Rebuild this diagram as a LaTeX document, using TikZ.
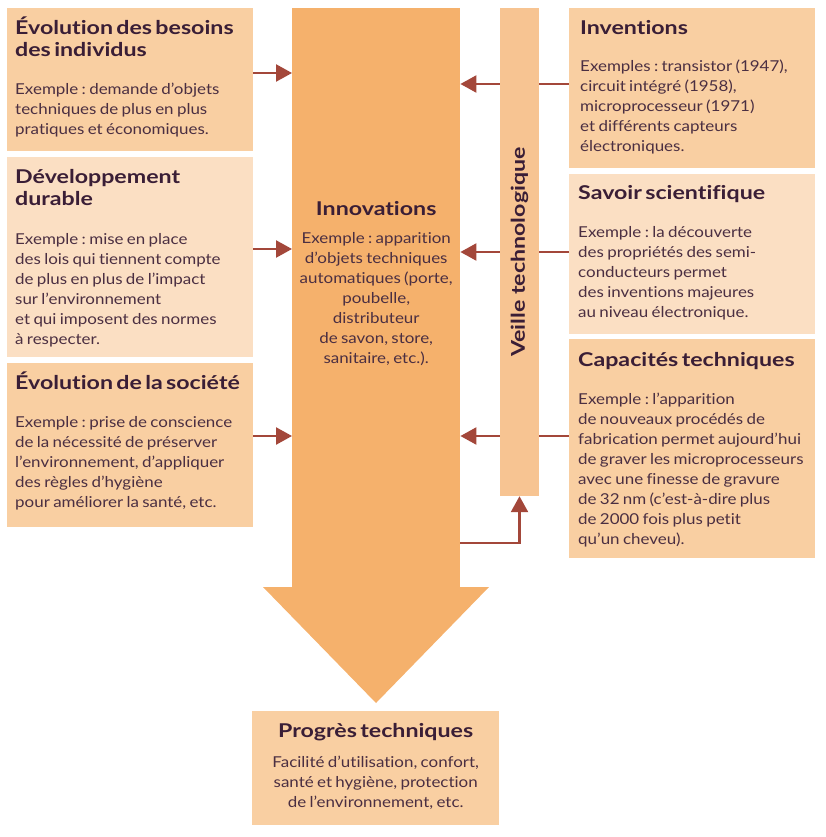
\documentclass[tikz,border=0pt]{standalone}
\usepackage{fontspec}
\setmainfont{Lato}[FakeStretch=1.13, Ligatures=CommonOff]
\newfontfamily\titrefam{Lato}[FakeStretch=1.22, Ligatures=CommonOff]
\usepackage{graphicx}
\frenchspacing
\definecolor{peach}{HTML}{F9CFA2}
\definecolor{peachlight}{HTML}{FBDFC3}
\definecolor{orangemain}{HTML}{F5B16C}
\definecolor{veillecol}{HTML}{F7C492}
\definecolor{rouge}{HTML}{A3473A}
\definecolor{titre}{HTML}{3A1E36}
\definecolor{corps}{HTML}{4B2F42}
\newcommand\titrefont{\titrefam\fontsize{19}{22}\selectfont\bfseries\color{titre}}
\newcommand\corpsfont{\fontsize{15}{20}\selectfont\color{corps}}
\newcommand\cadre[3]{{\titrefont #1\par}\vspace{#3}{\corpsfont #2\par}}
\usetikzlibrary{arrows.meta}
\tikzset{
  box/.style={fill=#1, minimum width=246pt, anchor=north west, inner sep=0pt},
  txt/.style={anchor=base west, text width=245pt, align=left, inner sep=0pt},
  ctxt/.style={anchor=base, text width=240pt, align=center, inner sep=0pt},
  fil/.style={draw=rouge, line width=2.4pt},
  fleche/.style={fil, -{Triangle[length=16pt,width=17pt]}}
}
\begin{document}
\begin{tikzpicture}[x=1pt,y=-1pt]
    \useasboundingbox (0,0) rectangle (825,837);

    \node[box=peach, minimum height=143pt] (besoins) at (7,8) {};
    \node[box=peachlight, minimum height=200pt] (durable) at (7,157) {};
    \node[box=peach, minimum height=164pt] (societe) at (7,363) {};
    \node[box=peach, minimum height=160pt] (inventions) at (569,8) {};
    \node[box=peachlight, minimum height=160pt] (savoir) at (569,174) {};
    \node[box=peach, minimum height=219pt] (capacites) at (569,339) {};
    \node[box=peach, minimum height=114pt, minimum width=247pt] (progres) at (252,711) {};

    \node[fill=orangemain, minimum width=168pt, minimum height=580pt, anchor=north west, inner sep=0pt] (innov) at (292,8) {};
    \fill[orangemain] (263,587) -- (489,587) -- (376,703) -- cycle;
    \node[fill=veillecol, minimum width=39pt, minimum height=488pt, inner sep=0pt] (veille) at (519.5,252)
        {\rotatebox{90}{\titrefont Veille technologique}};

    \node[txt] at ([xshift=8pt,yshift=-27pt]besoins.north west)
        {\cadre{Évolution des besoins\\des individus}{Exemple : demande d'objets\\techniques de plus en plus\\pratiques et économiques.}{18pt}};
    \node[txt] at ([xshift=8pt,yshift=-26pt]durable.north west)
        {\cadre{Développement\\durable}{Exemple : mise en place\\des lois qui tiennent compte\\de plus en plus de l'impact\\sur l'environnement\\et qui imposent des normes\\à respecter.}{19pt}};
    \node[txt] at ([xshift=8pt,yshift=-26pt]societe.north west)
        {\cadre{Évolution de la société}{Exemple : prise de conscience\\de la nécessité de préserver\\l'environnement, d'appliquer\\des règles d'hygiène\\pour améliorer la santé, etc.}{18pt}};
    \node[txt] at ([xshift=11pt,yshift=-27pt]inventions.north west)
        {\cadre{Inventions}{Exemples : transistor (1947),\\circuit intégré (1958),\\microprocesseur (1971)\\et différents capteurs\\électroniques.}{17pt}};
    \node[txt] at ([xshift=9pt,yshift=-25pt]savoir.north west)
        {\cadre{Savoir scientifique}{Exemple : la découverte\\des propriétés des semi-\\conducteurs permet\\des inventions majeures\\au niveau électronique.}{18pt}};
    \node[txt] at ([xshift=9pt,yshift=-27pt]capacites.north west)
        {\cadre{Capacités techniques}{Exemple : l'apparition\\de nouveaux procédés de\\fabrication permet aujourd'hui\\de graver les microprocesseurs\\avec une finesse de gravure\\de 32 nm (c'est-à-dire plus\\de 2000 fois plus petit\\qu'un cheveu).}{18pt}};
    \node[ctxt] at ([yshift=-207pt]innov.north)
        {\cadre{Innovations}{Exemple : apparition\\d'objets techniques\\automatiques (porte,\\poubelle,\\distributeur\\de savon, store,\\sanitaire, etc.).}{8pt}};
    \node[ctxt] at ([yshift=-26pt]progres.north)
        {\cadre{Progrès techniques}{Facilité d'utilisation, confort,\\santé et hygiène, protection\\de l'environnement, etc.}{10pt}};

    \draw[fleche] (besoins.east |- 0,73) -- (innov.west |- 0,73);
    \draw[fleche] (durable.east |- 0,249) -- (innov.west |- 0,249);
    \draw[fleche] (societe.east |- 0,436) -- (innov.west |- 0,436);

    \draw[fil] (inventions.west |- 0,84) -- (veille.east |- 0,84);
    \draw[fil] (savoir.west |- 0,252) -- (veille.east |- 0,252);
    \draw[fil] (capacites.west |- 0,436) -- (veille.east |- 0,436);
    \draw[fleche] (veille.west |- 0,84) -- (innov.east |- 0,84);
    \draw[fleche] (veille.west |- 0,252) -- (innov.east |- 0,252);
    \draw[fleche] (veille.west |- 0,436) -- (innov.east |- 0,436);
    \draw[fleche] (innov.east |- 0,543) -| (veille.south);
\end{tikzpicture}
\end{document}
